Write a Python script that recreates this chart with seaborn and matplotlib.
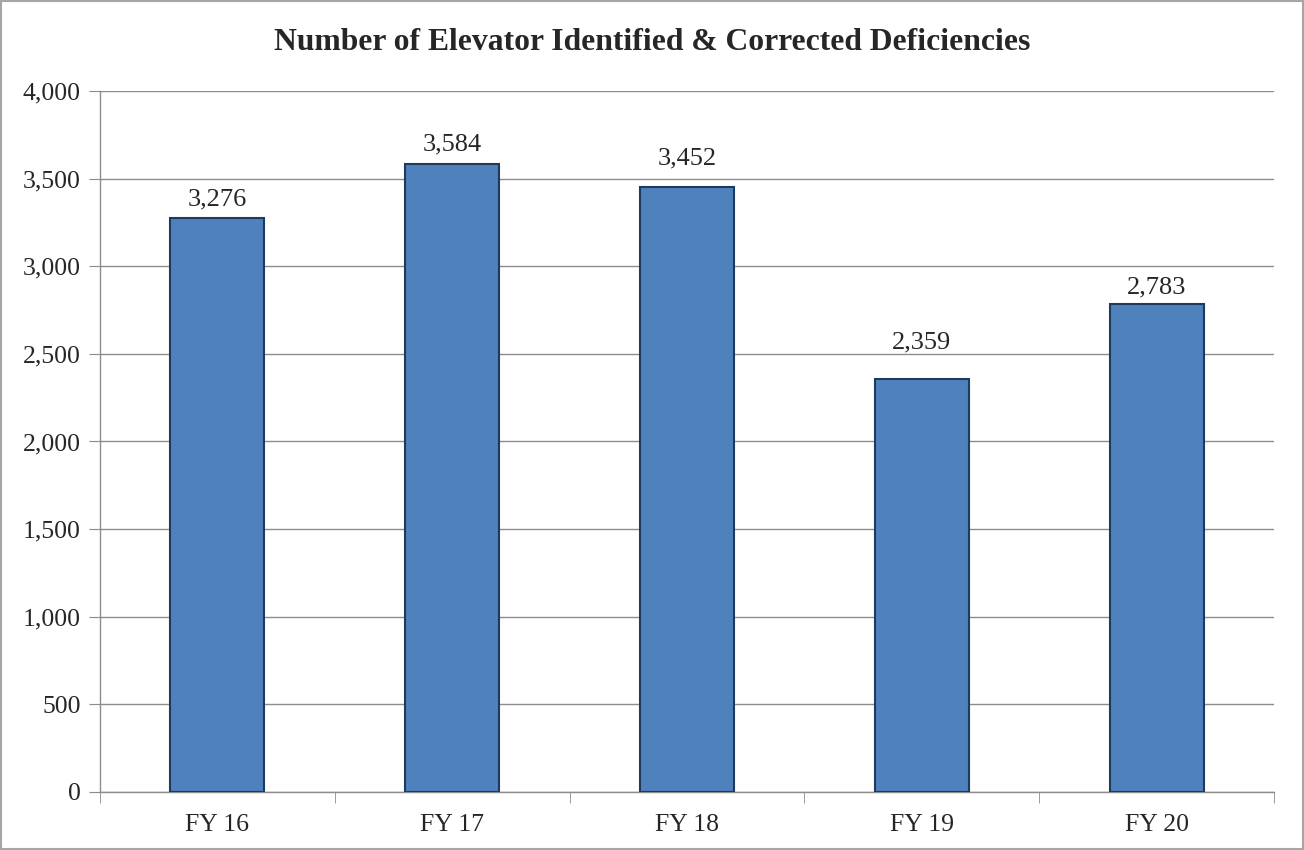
import matplotlib
matplotlib.use("Agg")
import matplotlib.pyplot as plt
import seaborn as sns
import pandas as pd
from matplotlib.ticker import FuncFormatter, FixedLocator

years = ["FY 16", "FY 17", "FY 18", "FY 19", "FY 20"]
deficiencies = [3276, 3584, 3452, 2359, 2783]

df = pd.DataFrame({"year": years, "count": deficiencies})

# deslocamento manual das etiquetas (pontos acima da barra)
label_offsets = [5, 6, 13, 18, 4.5]

sns.set_style("white")
plt.rcParams["font.family"] = ["Liberation Serif", "DejaVu Serif"]

fig = plt.figure(figsize=(13.04, 8.5), dpi=100)
ax = fig.add_axes([100 / 1304, 58 / 850, 1174 / 1304, 701 / 850])

sns.barplot(data=df, x="year", y="count", color="#4F81BD", width=0.4,
            edgecolor="#1F3A5F", linewidth=1.5, saturation=1, ax=ax, zorder=3)

# etiquetas dos valores
for i, v in enumerate(deficiencies):
    ax.annotate(f"{v:,}", (i, v), xytext=(0, label_offsets[i]), textcoords="offset points",
                ha="center", va="bottom", fontsize=19)

ax.set_ylim(0, 4000)
ax.set_xlim(-0.5, len(years) - 0.5)
ax.set_yticks(range(0, 4001, 500))
ax.yaxis.set_major_formatter(FuncFormatter(lambda v, p: f"{int(v):,}"))
ax.grid(axis="y", color="#8C8C8C", linewidth=1, zorder=0)

ax.tick_params(axis="y", length=8, color="#8C8C8C", labelsize=18.5, pad=6, left=True)
ax.tick_params(axis="x", which="major", length=0, labelsize=18.5, pad=16)
ax.xaxis.set_minor_locator(FixedLocator([i - 0.5 for i in range(len(years) + 1)]))
ax.tick_params(axis="x", which="minor", length=8, color="#8C8C8C", bottom=True)

for s in ["top", "right"]:
    ax.spines[s].set_visible(False)
for s in ["left", "bottom"]:
    ax.spines[s].set_color("#8C8C8C")
    ax.spines[s].set_linewidth(1)

ax.set_xlabel("")
ax.set_ylabel("")
fig.text(0.5, 1 - 42 / 850, "Number of Elevator Identified & Corrected Deficiencies",
         fontsize=22.8, fontweight="bold", ha="center", va="center")

# moldura externa
fig.patches.append(plt.Rectangle((0.001, 0.001), 0.998, 0.998, transform=fig.transFigure,
                                 fill=False, edgecolor="#A6A6A6", linewidth=1.5))

fig.savefig("out.png", dpi=100)
